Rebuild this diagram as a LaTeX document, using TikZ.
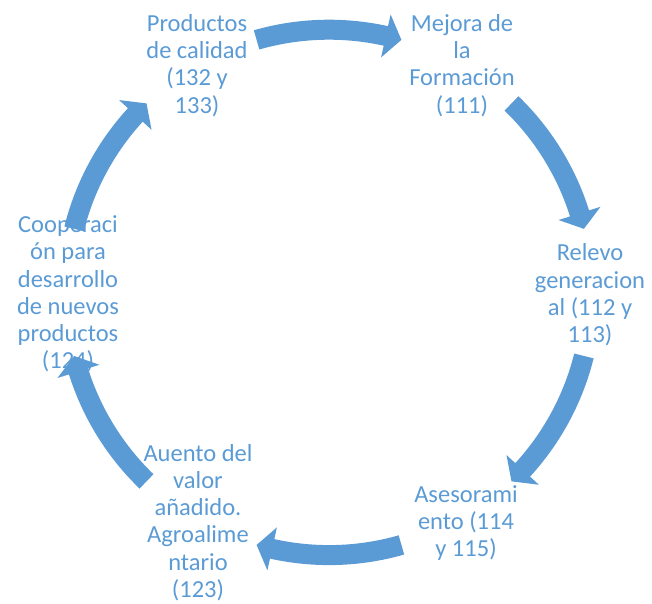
\documentclass[tikz,border=0pt]{standalone}
\usepackage{fontspec}
\setmainfont{Carlito}
\definecolor{acc}{HTML}{5B9BD5}
\newcommand\cycarrow[1]{%
  \pgfmathsetmacro\aS{#1+16}%
  \pgfmathsetmacro\aB{#1-12.5}%
  \pgfmathsetmacro\aT{#1-16}%
  \fill[cyc,shift={(329,310.6)}] (\aS:272.7) arc[start angle=\aS,end angle=\aB,radius=272.7]
    -- (\aB:284.7) -- (\aT:262.7) -- (\aB:240.7) -- (\aB:252.7)
    arc[start angle=\aB,end angle=\aS,radius=252.7] -- cycle;}
\begin{document}
\begin{tikzpicture}[x=1pt,y=1pt,
  lbl/.style={text=acc, align=center, inner sep=0pt, font=\fontsize{24.5}{27.3}\selectfont},
  cyc/.style={fill=acc}]
\useasboundingbox (0,0) rectangle (652,603);
\node[lbl] (tl) at (197,537.5) {Productos\\de calidad\\(132 y\\133)};
\node[lbl] (tr) at (462,537.5) {Mejora de\\la\\Formación\\(111)};
\node[lbl] (r)  at (590,308) {Relevo\\generacion\\al (112 y\\113)};
\node[lbl] (br) at (466,80) {Asesorami\\ento (114\\y 115)};
\node[lbl] (bl) at (198,80.5) {Auento del\\valor\\añadido.\\Agroalime\\ntario\\(123)};
\node[lbl] (l)  at (68,309) {Cooperaci\\ón para\\desarrollo\\de nuevos\\productos\\(124)};
\cycarrow{90}
\cycarrow{30}
\cycarrow{-30}
\cycarrow{-90}
\cycarrow{-150}
\cycarrow{150}
\end{tikzpicture}
\end{document}
